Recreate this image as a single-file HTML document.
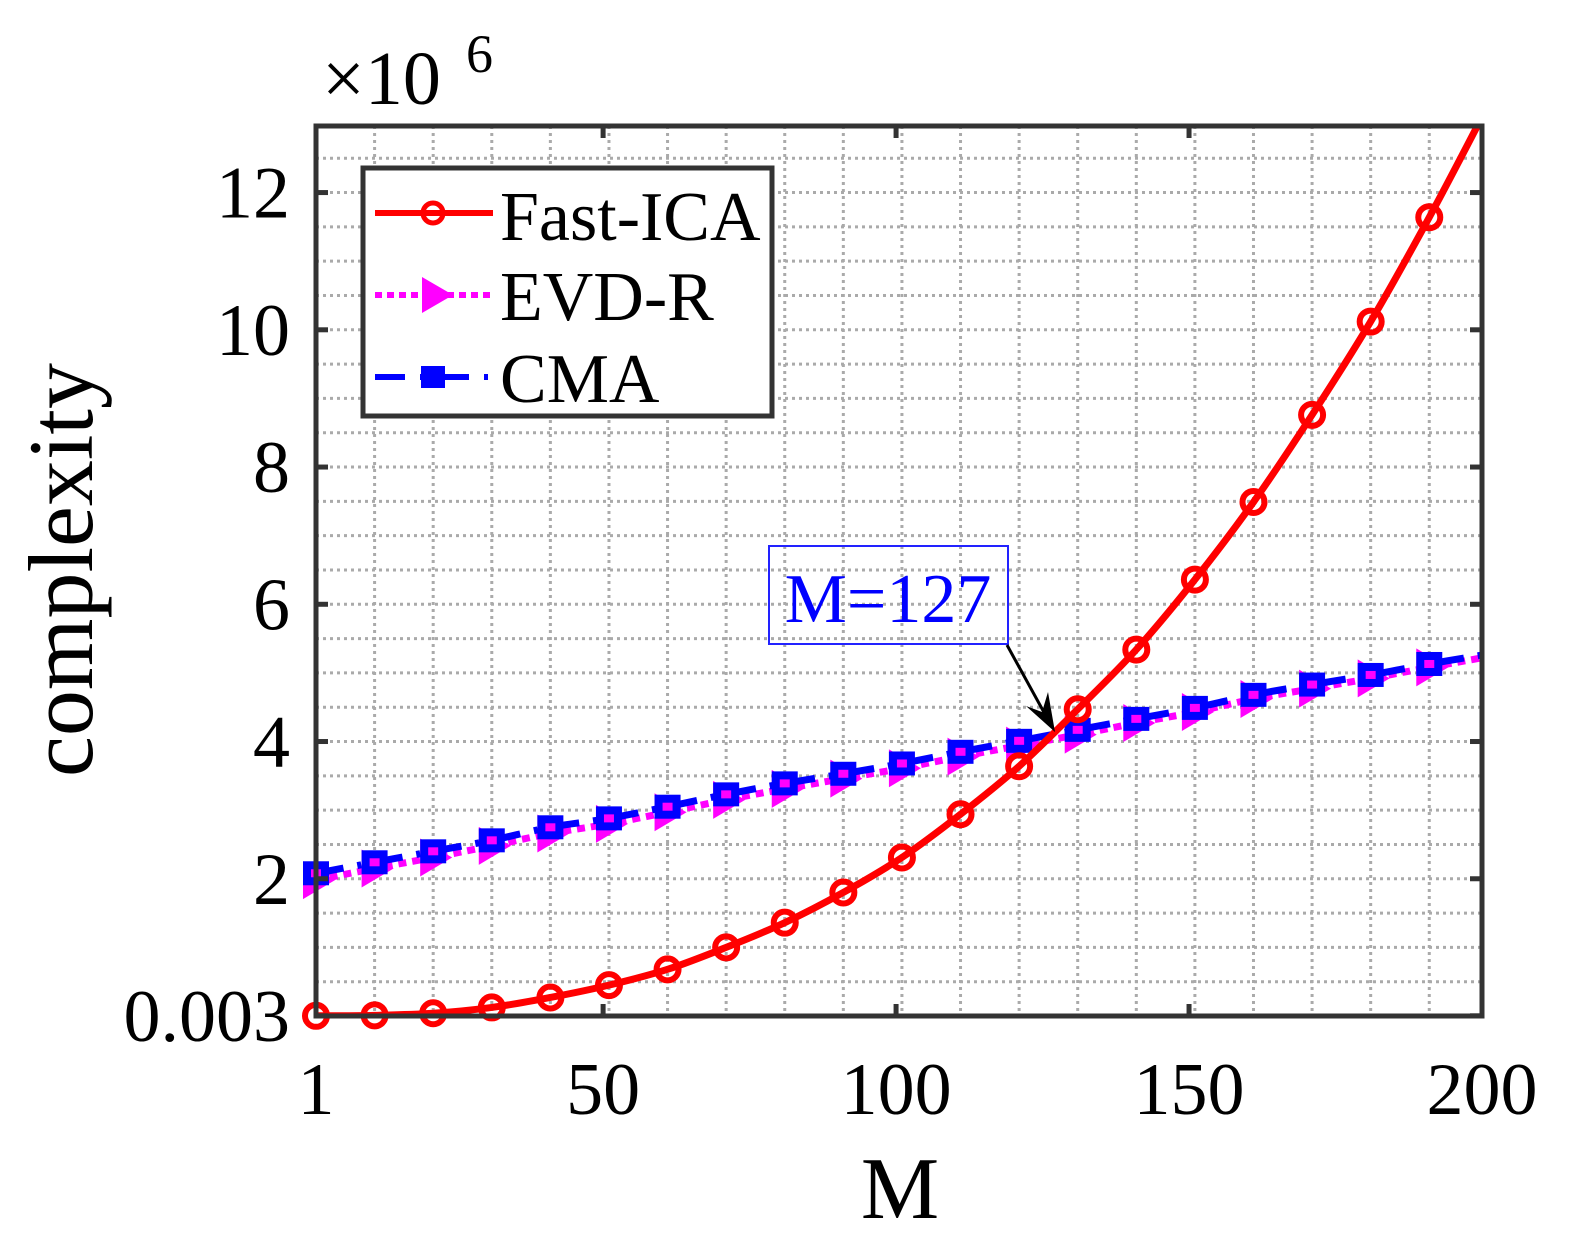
<!DOCTYPE html>
<html><head><meta charset="utf-8"><style>
html,body{margin:0;padding:0;background:#fff;}
svg{display:block;font-family:"Liberation Serif",serif;}
</style></head><body>
<svg id="chart" width="1575" height="1255" viewBox="0 0 1575 1255" xmlns="http://www.w3.org/2000/svg">
<defs><clipPath id="clip"><rect x="316" y="126" width="1166" height="890"/></clipPath></defs>
<g id="grid"></g>
<g id="series"></g>
<g id="axes"></g>
<text x="322" y="104" font-size="76">×10</text>
<text x="466" y="72" font-size="54">6</text>
<text x="900" y="1218" font-size="88" text-anchor="middle">M</text>
<text transform="translate(92,570) rotate(-90)" font-size="92" text-anchor="middle">complexity</text>
<g>
<rect x="769" y="546" width="239" height="98" fill="none" stroke="#2222ff" stroke-width="2"/>
<text x="888" y="622" font-size="70" fill="#0000ff" text-anchor="middle">M=127</text>
<line x1="1007" y1="645" x2="1046" y2="716" stroke="#000" stroke-width="3"/>
<polygon points="1055,732 1026,706 1042,712 1048,692" fill="#000"/>
</g>
<g>
<rect x="363" y="168" width="409" height="248" fill="#fff" stroke="#333" stroke-width="5"/>
<line x1="375" y1="213" x2="493" y2="213" stroke="#f00" stroke-width="6"/>
<circle cx="433" cy="213" r="10" fill="none" stroke="#f00" stroke-width="5"/>
<text x="500" y="240" font-size="70">Fast-ICA</text>
<line x1="375" y1="295" x2="493" y2="295" stroke="#f0f" stroke-width="6" stroke-dasharray="7,5"/>
<polygon points="422,277 453,295 422,313" fill="#f0f"/>
<text x="500" y="320" font-size="70">EVD-R</text>
<line x1="375" y1="377" x2="493" y2="377" stroke="#00f" stroke-width="6" stroke-dasharray="30,15,4,15"/>
<rect x="421" y="366" width="24" height="22" fill="#00f"/>
<text x="500" y="402" font-size="70">CMA</text>
</g>
</svg>
<script>
const markerM = [1,11,21,31,41,51,61,71,81,91,101,111,121,131,141,151,161,171,181,191];
const fastIca = [0.003,0.01,0.04,0.125,0.27,0.45,0.68,1.0,1.36,1.80,2.31,2.94,3.64,4.47,5.34,6.36,7.49,8.76,10.12,11.64];
const cma = [2.08,2.24,2.40,2.56,2.75,2.88,3.05,3.23,3.39,3.53,3.68,3.85,4.01,4.17,4.33,4.49,4.68,4.83,4.97,5.13];
const evdr = [1.98,2.15,2.31,2.48,2.66,2.80,2.97,3.15,3.31,3.46,3.61,3.78,3.94,4.10,4.27,4.43,4.62,4.77,4.92,5.08];
const endM = 200;
const fastIcaEnd = 13.1;
const cmaEnd = 5.26;
const evdrEnd = 5.22;
const xTicks = [1,50,100,150,200];
const xTickLabels = ["1","50","100","150","200"];
const yTicks = [0.003,2,4,6,8,10,12];
const yTickLabels = ["0.003","2","4","6","8","10","12"];

var L=316,R=1482,T=126,B=1016,xmin=1,xmax=200,ymin=0,ymax=12.97;
function X(m){return L+(m-xmin)/(xmax-xmin)*(R-L);}
function Y(v){return B-(v-ymin)/(ymax-ymin)*(B-T);}
var NS="http://www.w3.org/2000/svg";
function mk(tag,attrs,parent){var e=document.createElementNS(NS,tag);for(var k in attrs)e.setAttribute(k,attrs[k]);parent.appendChild(e);return e;}
var grid=document.getElementById('grid'),series=document.getElementById('series'),axes=document.getElementById('axes');
mk('rect',{x:L,y:T,width:R-L,height:B-T,fill:'#fff'},grid);
for(var m=11;m<200;m+=10){var g=mk('line',{x1:X(m),y1:T,x2:X(m),y2:B,stroke:'#aaa','stroke-width':3,'stroke-dasharray':'3,4'},grid);

}
for(var v=0.5;v<13;v+=0.5){var g2=mk('line',{x1:L,y1:Y(v),x2:R,y2:Y(v),stroke:'#aaa','stroke-width':3,'stroke-dasharray':'3,4'},grid);

}

function smooth(xs,ys){var p=xs.map(function(x,i){return [X(x),Y(ys[i])];});var d='M'+p[0][0]+','+p[0][1];
for(var i=0;i<p.length-1;i++){var p0=p[Math.max(0,i-1)],p1=p[i],p2=p[i+1],p3=p[Math.min(p.length-1,i+2)];
d+=' C'+(p1[0]+(p2[0]-p0[0])/6)+','+(p1[1]+(p2[1]-p0[1])/6)+' '+(p2[0]-(p3[0]-p1[0])/6)+','+(p2[1]-(p3[1]-p1[1])/6)+' '+p2[0]+','+p2[1];}return d;}
var ms=markerM.concat([endM]);
var le=mk('path',{d:smooth(ms,evdr.concat([evdrEnd])),fill:'none',stroke:'#f0f','stroke-width':7,'stroke-dasharray':'8,6','clip-path':'url(#clip)'},series);


markerM.forEach(function(m,i){var x=X(m),y=Y(evdr[i]);var t=mk('polygon',{points:(x-13)+','+(y-19)+' '+(x+19)+','+y+' '+(x-13)+','+(y+19),fill:'#f0f'},series);

});
var lc=mk('path',{d:smooth(ms,cma.concat([cmaEnd])),fill:'none',stroke:'#00f','stroke-width':7,'stroke-dasharray':'28,14,4,14','clip-path':'url(#clip)'},series);


markerM.forEach(function(m,i){var x=X(m),y=Y(cma[i]);var s=mk('rect',{x:x-13,y:y-12,width:26,height:24,fill:'#00f'},series);


mk('rect',{x:x-5,y:y-4,width:10,height:8,fill:'#f0f'},series);});
var lf=mk('path',{d:smooth(ms,fastIca.concat([fastIcaEnd])),fill:'none',stroke:'#f00','stroke-width':7,'clip-path':'url(#clip)'},series);


markerM.forEach(function(m,i){var c=mk('circle',{cx:X(m),cy:Y(fastIca[i]),r:11,fill:'none',stroke:'#f00','stroke-width':6},series);

});

var box=mk('rect',{x:L,y:T,width:R-L,height:B-T,fill:'none',stroke:'#333','stroke-width':5},axes);


xTicks.forEach(function(m,i){var x=X(m);mk('line',{x1:x,y1:B,x2:x,y2:B-12,stroke:'#333','stroke-width':5},axes);mk('line',{x1:x,y1:T,x2:x,y2:T+12,stroke:'#333','stroke-width':5},axes);
var t=mk('text',{x:x,y:1114,'font-size':74,'text-anchor':'middle'},axes);t.textContent=xTickLabels[i];

});
yTicks.forEach(function(v,i){var y=Y(v);mk('line',{x1:L,y1:y,x2:L+12,y2:y,stroke:'#333','stroke-width':5},axes);mk('line',{x1:R,y1:y,x2:R-12,y2:y,stroke:'#333','stroke-width':5},axes);
var t=mk('text',{x:290,y:y+25,'font-size':74,'text-anchor':'end'},axes);t.textContent=yTickLabels[i];

});
</script>
</body></html>
